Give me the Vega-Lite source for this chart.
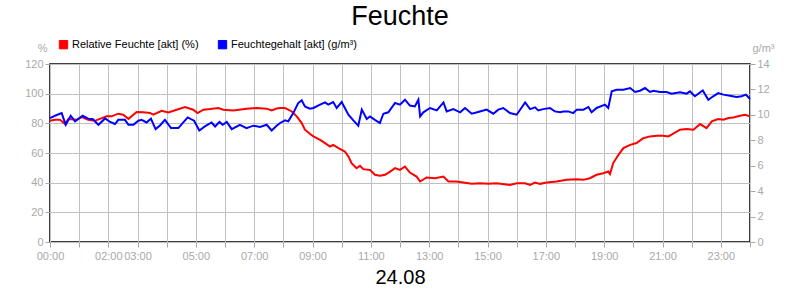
{
  "$schema": "https://vega.github.io/schema/vega-lite/v6.json",
  "width": 700,
  "height": 178,
  "autosize": {"type": "none"},
  "padding": {"left": 50, "right": 50, "top": 64, "bottom": 58},
  "background": "white",
  "title": {"text": "Feuchte", "anchor": "middle", "fontSize": 27, "font": "Liberation Sans", "fontWeight": "normal", "color": "black", "offset": 8},
  "config": {
    "font": "Liberation Sans",
    "view": {"stroke": "black", "strokeWidth": 1.5},
    "axis": {"labelFont": "Liberation Sans", "labelFontSize": 11, "labelColor": "#a8a8a8", "tickColor": "#a8a8a8", "tickSize": 5, "domainColor": "black", "gridColor": "#c0c0c0", "gridOpacity": 1, "gridWidth": 1, "titleFont": "Liberation Sans", "titleFontWeight": "normal"},
    "legend": {"labelFont": "Liberation Sans", "labelFontSize": 11, "labelColor": "black"}
  },
  "datasets": {
    "rf": [
      {"h":0.00,"v":81.7},{"h":0.17,"v":82.4},{"h":0.34,"v":82.4},{"h":0.51,"v":79.7},{"h":0.63,"v":82.9},{"h":0.91,"v":82.4},{"h":1.09,"v":84.2},{"h":1.31,"v":82.4},{"h":1.54,"v":81.7},{"h":1.71,"v":83.0},{"h":1.94,"v":84.7},{"h":2.11,"v":84.7},{"h":2.34,"v":86.5},{"h":2.51,"v":85.8},{"h":2.69,"v":83.0},{"h":2.97,"v":87.6},{"h":3.20,"v":87.4},{"h":3.43,"v":87.0},{"h":3.54,"v":85.8},{"h":3.83,"v":88.5},{"h":4.06,"v":87.4},{"h":4.34,"v":89.2},{"h":4.63,"v":91.0},{"h":4.91,"v":89.2},{"h":5.06,"v":86.9},{"h":5.26,"v":89.2},{"h":5.49,"v":89.6},{"h":5.77,"v":90.3},{"h":5.94,"v":89.2},{"h":6.29,"v":88.7},{"h":6.74,"v":89.9},{"h":7.09,"v":90.3},{"h":7.43,"v":89.9},{"h":7.60,"v":88.7},{"h":7.77,"v":90.0},
      {"h":7.89,"v":90.3},{"h":8.06,"v":90.3},{"h":8.29,"v":88.0},{"h":8.46,"v":84.7},{"h":8.63,"v":80.2},{"h":8.74,"v":75.7},{"h":8.91,"v":73.0},{"h":9.03,"v":71.2},{"h":9.26,"v":68.9},{"h":9.43,"v":66.7},{"h":9.60,"v":64.4},{"h":9.71,"v":65.5},{"h":9.89,"v":63.3},{"h":10.11,"v":61.0},{"h":10.23,"v":57.7},{"h":10.34,"v":53.2},{"h":10.51,"v":49.8},{"h":10.63,"v":51.4},{"h":10.74,"v":49.1},{"h":10.97,"v":48.6},{"h":11.14,"v":45.3},{"h":11.31,"v":44.6},{"h":11.49,"v":45.3},{"h":11.66,"v":47.5},{"h":11.83,"v":49.8},{"h":12.00,"v":48.6},{"h":12.17,"v":50.9},{"h":12.34,"v":46.8},{"h":12.57,"v":44.1},{"h":12.69,"v":40.8},{"h":12.91,"v":43.5},{"h":13.20,"v":43.0},{"h":13.49,"v":44.1},{"h":13.66,"v":40.8},{"h":13.94,"v":40.8},{"h":14.17,"v":40.1},{"h":14.46,"v":39.2},{"h":14.74,"v":39.6},{"h":15.03,"v":39.2},{"h":15.31,"v":39.6},{"h":15.77,"v":38.5},{"h":16.00,"v":39.6},
      {"h":16.29,"v":39.6},{"h":16.46,"v":38.5},{"h":16.63,"v":40.1},{"h":16.80,"v":39.2},{"h":17.03,"v":40.1},{"h":17.37,"v":40.8},{"h":17.71,"v":41.9},{"h":18.06,"v":42.3},{"h":18.29,"v":41.9},{"h":18.51,"v":43.0},{"h":18.74,"v":45.3},{"h":18.97,"v":46.4},{"h":19.14,"v":47.5},{"h":19.20,"v":45.9},{"h":19.31,"v":53.2},{"h":19.49,"v":58.8},{"h":19.66,"v":63.3},{"h":19.89,"v":65.5},{"h":20.11,"v":66.7},{"h":20.34,"v":70.0},{"h":20.57,"v":71.2},{"h":20.80,"v":71.6},{"h":21.03,"v":71.6},{"h":21.20,"v":71.2},{"h":21.37,"v":73.0},{"h":21.60,"v":75.7},{"h":21.83,"v":76.1},{"h":22.06,"v":75.7},{"h":22.29,"v":79.5},{"h":22.51,"v":76.8},{"h":22.69,"v":81.3},{"h":22.91,"v":82.9},{"h":23.09,"v":82.4},{"h":23.26,"v":83.6},{"h":23.43,"v":84.0},{"h":23.66,"v":85.1},{"h":23.83,"v":85.8},{"h":24.00,"v":84.7}
    ],
    "fg": [
      {"h":0.00,"v":9.75},{"h":0.17,"v":9.93},{"h":0.40,"v":10.14},{"h":0.54,"v":9.22},{"h":0.71,"v":9.93},{"h":0.86,"v":9.49},{"h":1.12,"v":9.93},{"h":1.31,"v":9.70},{"h":1.46,"v":9.67},{"h":1.66,"v":9.22},{"h":1.89,"v":9.72},{"h":2.06,"v":9.44},{"h":2.23,"v":9.28},{"h":2.34,"v":9.61},{"h":2.57,"v":9.61},{"h":2.69,"v":9.22},{"h":2.86,"v":9.22},{"h":3.03,"v":9.54},{"h":3.14,"v":9.61},{"h":3.31,"v":9.40},{"h":3.46,"v":9.70},{"h":3.62,"v":8.88},{"h":3.77,"v":9.17},{"h":3.94,"v":9.61},{"h":4.15,"v":8.96},{"h":4.40,"v":8.96},{"h":4.72,"v":9.80},{"h":4.94,"v":9.54},{"h":5.12,"v":8.77},{"h":5.31,"v":9.09},{"h":5.54,"v":9.40},{"h":5.66,"v":9.09},{"h":5.81,"v":9.44},{"h":5.92,"v":9.22},{"h":6.06,"v":9.44},{"h":6.23,"v":8.88},{"h":6.51,"v":9.22},{"h":6.74,"v":8.96},{"h":6.97,"v":9.15},{"h":7.20,"v":9.04},{"h":7.43,"v":9.22},{"h":7.60,"v":8.77},{"h":7.77,"v":9.15},
      {"h":7.89,"v":9.36},{"h":8.06,"v":9.57},{"h":8.17,"v":9.49},{"h":8.34,"v":10.14},{"h":8.51,"v":10.93},{"h":8.63,"v":11.14},{"h":8.74,"v":10.66},{"h":8.91,"v":10.49},{"h":9.03,"v":10.54},{"h":9.26,"v":10.80},{"h":9.43,"v":10.98},{"h":9.54,"v":10.80},{"h":9.71,"v":11.01},{"h":9.83,"v":10.54},{"h":10.00,"v":11.01},{"h":10.11,"v":10.54},{"h":10.23,"v":10.01},{"h":10.40,"v":9.57},{"h":10.57,"v":9.15},{"h":10.69,"v":10.41},{"h":10.86,"v":9.67},{"h":10.97,"v":9.88},{"h":11.14,"v":9.61},{"h":11.31,"v":9.36},{"h":11.43,"v":10.09},{"h":11.60,"v":10.20},{"h":11.83,"v":10.93},{"h":12.00,"v":10.80},{"h":12.17,"v":11.19},{"h":12.34,"v":10.73},{"h":12.51,"v":10.66},{"h":12.63,"v":11.19},{"h":12.69,"v":9.88},{"h":12.80,"v":10.20},{"h":13.03,"v":10.54},{"h":13.26,"v":10.35},{"h":13.49,"v":10.98},{"h":13.60,"v":10.27},{"h":13.83,"v":10.45},{"h":14.06,"v":10.20},{"h":14.23,"v":10.54},{"h":14.46,"v":10.09},{"h":14.74,"v":10.27},{"h":14.97,"v":10.41},{"h":15.20,"v":10.09},{"h":15.37,"v":10.41},{"h":15.54,"v":10.54},{"h":15.77,"v":10.14},{"h":16.00,"v":10.01},
      {"h":16.29,"v":10.98},{"h":16.46,"v":10.45},{"h":16.63,"v":10.59},{"h":16.74,"v":10.35},{"h":16.91,"v":10.45},{"h":17.14,"v":10.54},{"h":17.31,"v":10.27},{"h":17.49,"v":10.20},{"h":17.60,"v":10.27},{"h":17.77,"v":10.27},{"h":17.94,"v":10.14},{"h":18.06,"v":10.41},{"h":18.29,"v":10.41},{"h":18.46,"v":10.62},{"h":18.57,"v":10.20},{"h":18.74,"v":10.54},{"h":19.03,"v":10.80},{"h":19.14,"v":10.54},{"h":19.26,"v":11.85},{"h":19.43,"v":11.98},{"h":19.66,"v":11.98},{"h":19.89,"v":12.11},{"h":20.06,"v":11.80},{"h":20.23,"v":11.90},{"h":20.40,"v":12.11},{"h":20.57,"v":11.80},{"h":20.69,"v":11.90},{"h":20.91,"v":11.80},{"h":21.14,"v":11.80},{"h":21.31,"v":11.67},{"h":21.60,"v":11.77},{"h":21.83,"v":11.67},{"h":21.94,"v":11.85},{"h":22.11,"v":11.46},{"h":22.38,"v":11.92},{"h":22.57,"v":11.19},{"h":22.74,"v":11.46},{"h":22.91,"v":11.71},{"h":23.09,"v":11.59},{"h":23.31,"v":11.50},{"h":23.54,"v":11.40},{"h":23.71,"v":11.46},{"h":23.86,"v":11.59},{"h":24.00,"v":11.25}
    ]
  },
  "encoding": {
    "x": {"field": "h", "type": "quantitative", "scale": {"domain": [0, 24], "nice": false, "zero": false},
      "axis": {"values": [0,1,2,3,4,5,6,7,8,9,10,11,12,13,14,15,16,17,18,19,20,21,22,23,24],
        "labelExpr": "indexof([0,2,3,5,7,9,11,13,15,17,19,21,23], datum.value) >= 0 ? ((datum.value < 10 ? '0' : '') + datum.value + ':00') : ''",
        "labelPadding": 3, "labelFlush": false, "labelOverlap": false, "grid": true, "domain": false,
        "title": "24.08", "titleFontSize": 20, "titleColor": "black", "titlePadding": 6}}
  },
  "layer": [
    {
      "data": {"name": "rf"},
      "mark": {"type": "line", "strokeWidth": 2, "interpolate": "linear"},
      "encoding": {
        "y": {"field": "v", "type": "quantitative", "scale": {"domain": [0, 120], "nice": false},
          "axis": {"values": [0,20,40,60,80,100,120], "grid": true, "domain": false, "labelPadding": 2,
            "title": "%", "titleAngle": 0, "titleColor": "#a8a8a8", "titleFontSize": 11, "titleX": -3, "titleY": -11, "titleAlign": "right"}},
        "color": {"datum": "Relative Feuchte [akt] (%)", "type": "nominal",
          "scale": {"domain": ["Relative Feuchte [akt] (%)", "Feuchtegehalt [akt] (g/m³)"], "range": ["#ff0000", "#0000ff"]},
          "legend": {"title": null, "orient": "none", "legendX": 8, "legendY": -25, "direction": "horizontal", "symbolType": "square", "symbolSize": 70, "symbolStrokeWidth": 1, "columnPadding": 17, "labelOffset": 3,
            "encode": {"symbols": {"update": {"fill": {"scale": "color", "field": "value"}, "stroke": {"value": "black"}, "strokeWidth": {"value": 1}}}}}}
      }
    },
    {
      "data": {"name": "fg"},
      "mark": {"type": "line", "strokeWidth": 2, "interpolate": "linear"},
      "encoding": {
        "y": {"field": "v", "type": "quantitative", "scale": {"domain": [0, 14], "nice": false},
          "axis": {"orient": "right", "values": [0,2,4,6,8,10,12,14], "grid": false, "domain": false, "labelPadding": 2,
            "title": "g/m³", "titleAngle": 0, "titleColor": "#a8a8a8", "titleFontSize": 11, "titleX": 2, "titleY": -11, "titleAlign": "left"}},
        "color": {"datum": "Feuchtegehalt [akt] (g/m³)", "type": "nominal"}
      }
    }
  ],
  "resolve": {"scale": {"y": "independent"}}
}
